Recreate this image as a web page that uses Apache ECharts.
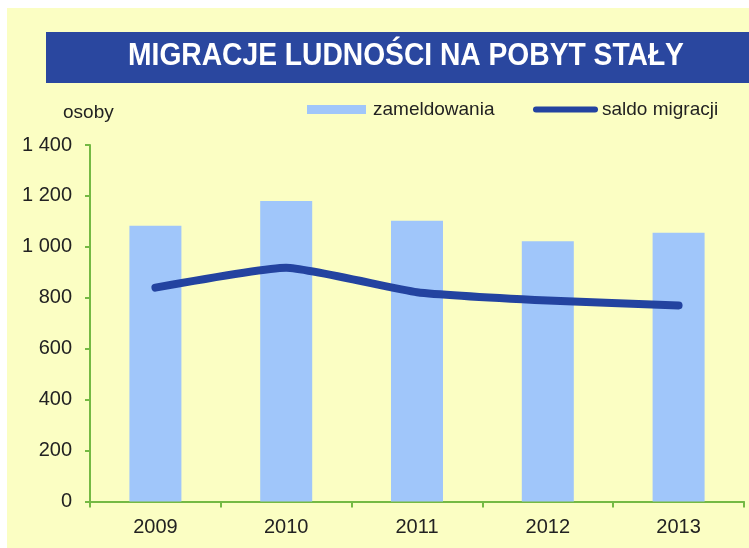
<!DOCTYPE html>
<html>
<head>
<meta charset="utf-8">
<script src="https://cdn.jsdelivr.net/npm/echarts@6/dist/echarts.min.js"></script>
<style>
  html, body { margin: 0; padding: 0; background: #fff; }
  #chart { width: 749px; height: 548px; }
</style>
</head>
<body>
<div id="chart"></div>
<script>
// dane
const years = ['2009', '2010', '2011', '2012', '2013']
const zameldowania = [1083, 1180, 1103, 1022, 1055]
const saldoMigracji = [840, 918, 822, 789, 770]
const yTicks = [0, 200, 400, 600, 800, 1000, 1200, 1400]

const bg = '#FBFEC3'
const navy = '#2A479F'
const barColor = '#A0C6FA'
const lineColor = '#2343A0'
const green = '#74B944'
const font = '"Liberation Sans", Arial, sans-serif'

const fmt = (v) => String(v).replace(/\B(?=(\d{3})+(?!\d))/g, ' ')

const myChart = echarts.init(document.getElementById('chart'), null, { renderer: 'canvas' })

const option = {
  backgroundColor: '#fff',
  animation: false,
  graphic: [
    { type: 'rect', z: -10, shape: { x: 7, y: 8, width: 742, height: 540 }, style: { fill: bg } },
    { type: 'rect', z: -5, shape: { x: 46, y: 32, width: 703, height: 51 }, style: { fill: navy } },
    {
      type: 'text', x: 406, y: 56, z: 10, scaleX: 0.91,
      style: {
        text: 'MIGRACJE LUDNOŚCI NA POBYT STAŁY',
        fill: '#fff',
        font: 'bold 31px "Liberation Sans", Arial, sans-serif',
        align: 'center',
        verticalAlign: 'middle'
      }
    }
  ],
  title: {
    text: 'osoby',
    left: 58,
    top: 98,
    textStyle: { fontFamily: font, fontSize: 19, fontWeight: 'normal', color: '#222' }
  },
  legend: [
    {
      data: ['zameldowania'],
      left: 302,
      top: 95,
      icon: 'rect',
      itemWidth: 59,
      itemHeight: 9,
      itemGap: 0,
      textStyle: { fontFamily: font, fontSize: 19, color: '#222', padding: [0, 0, 0, 2] }
    },
    {
      data: ['saldo migracji'],
      left: 528,
      top: 95,
      icon: 'path://M3,0 L62,0 A3,3 0 0 1 62,6 L3,6 A3,3 0 0 1 3,0 Z',
      itemWidth: 65,
      itemHeight: 7,
      itemGap: 0,
      textStyle: { fontFamily: font, fontSize: 19, color: '#222', padding: [0, 0, 0, -1] }
    }
  ],
  grid: { left: 90, right: 5, top: 145, bottom: 46.5, containLabel: false },
  xAxis: {
    type: 'category',
    data: years,
    axisLine: { lineStyle: { color: green, width: 2 } },
    axisTick: { show: true, length: 6, lineStyle: { color: green, width: 2 } },
    axisLabel: { fontFamily: font, fontSize: 20, color: '#222', margin: 16 },
    splitLine: { show: false }
  },
  yAxis: {
    type: 'value',
    min: yTicks[0],
    max: yTicks[yTicks.length - 1],
    interval: 200,
    axisLine: { show: true, lineStyle: { color: green, width: 2 } },
    axisTick: { show: true, length: 5, lineStyle: { color: green, width: 2 } },
    axisLabel: { fontFamily: font, fontSize: 20, color: '#222', margin: 18, formatter: fmt },
    splitLine: { show: false }
  },
  series: [
    {
      name: 'zameldowania',
      type: 'bar',
      data: zameldowania,
      barWidth: 52,
      itemStyle: { color: barColor }
    },
    {
      name: 'saldo migracji',
      type: 'line',
      data: saldoMigracji,
      smooth: 0.15,
      showSymbol: false,
      symbol: 'none',
      itemStyle: { color: lineColor },
      lineStyle: { color: lineColor, width: 8, cap: 'round', join: 'round' }
    }
  ]
}
myChart.setOption(option)
</script>
</body>
</html>
